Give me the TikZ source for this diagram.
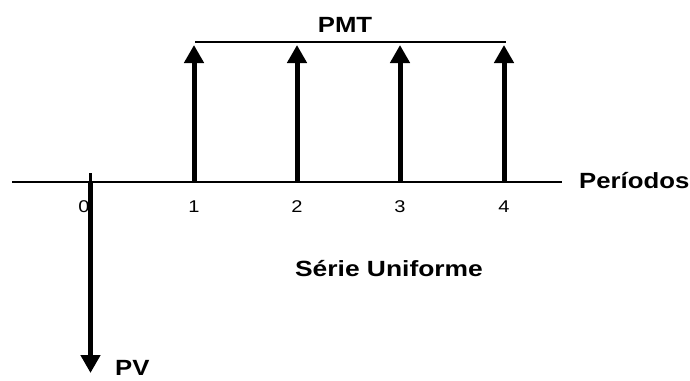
\documentclass[tikz,border=0pt]{standalone}
\usepackage{fontspec}
\setmainfont{Liberation Sans}
\usetikzlibrary{arrows.meta}
\begin{document}
\begin{tikzpicture}[x=1pt,y=-1pt,
  flow/.style={line width=5pt,-{Triangle[length=18pt,width=19pt]}},
  axisline/.style={line width=2pt},
  title/.style={inner sep=0pt,font=\fontsize{22}{26}\selectfont\bfseries},
  period/.style={inner sep=0pt,anchor=base,font=\fontsize{17}{20}\selectfont}]
\useasboundingbox (0,0) rectangle (690,380);
% time axis
\coordinate (axL) at (12,182);
\coordinate (axR) at (562,182);
\draw[axisline] (axL) -- (axR);
\node[title,anchor=base west] (per) at (579,188) {\scalebox{1.17}[1]{Períodos}};
% period labels
\node[period] (n0) at (84,212) {\scalebox{1.18}[1]{0}};
\node[period] (n1) at (194,212) {\scalebox{1.18}[1]{1}};
\node[period] (n2) at (297,212) {\scalebox{1.18}[1]{2}};
\node[period] (n3) at (400,212) {\scalebox{1.18}[1]{3}};
\node[period] (n4) at (504,212) {\scalebox{1.18}[1]{4}};
% present value (outflow at 0)
\coordinate (tk) at (90.5,173);
\coordinate (p0) at (90.5,182);
\coordinate (pv) at (90.5,373);
\draw[line width=3.5pt] (tk) -- (p0);
\draw[flow] (p0) -- (pv);
\node[title,anchor=base west] (pvl) at (115,375) {\scalebox{1.17}[1]{PV}};
% uniform payments
\foreach \i/\x in {1/194,2/297,3/400,4/504}{
  \coordinate (b\i) at (\x,182);
  \coordinate (t\i) at (\x,45);
  \draw[flow] (b\i) -- (t\i);
}
\coordinate (pl) at (195,42);
\coordinate (pr) at (506,42);
\draw[line width=1.5pt] (pl) -- (pr);
\node[title,anchor=base] (pmt) at (345,32) {\scalebox{1.17}[1]{PMT}};
\node[title,anchor=base] (su) at (389,276) {\scalebox{1.2}[1]{Série Uniforme}};
\end{tikzpicture}
\end{document}
